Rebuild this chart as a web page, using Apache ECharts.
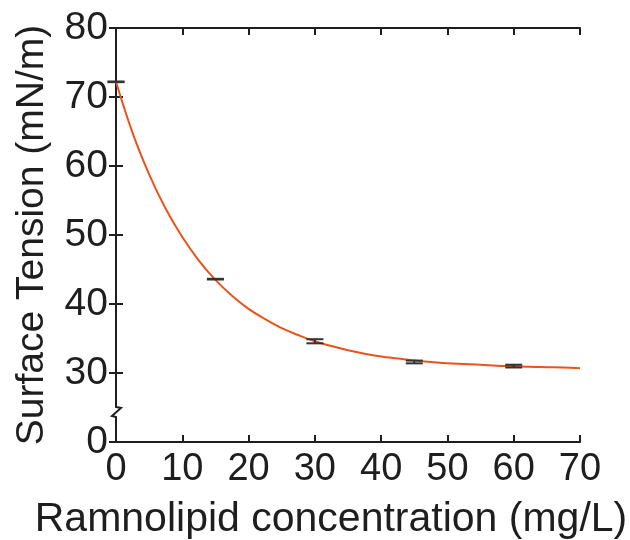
<!DOCTYPE html>
<html>
<head>
<meta charset="utf-8">
<script src="https://cdn.jsdelivr.net/npm/echarts@6/dist/echarts.min.js"></script>
<style>
  html, body { margin: 0; padding: 0; background: #fff; }
  #chart { width: 630px; height: 540px; }
</style>
</head>
<body>
<div id="chart"></div>
<script>
// measured points (mean +/- error)
var concX = [0, 15, 30, 45, 60]
var tensionMean = [72.2, 43.6, 34.6, 31.6, 31.0]
var tensionErr = [0.05, 0.05, 0.3, 0.2, 0.2]

// fitted curve
var fitX = [0, 2.5, 5, 7.5, 10, 12.5, 15, 17.5, 20, 22.5, 25, 27.5, 30, 32.5, 35, 37.5, 40, 42.5, 45, 47.5, 50, 52.5, 55, 57.5, 60, 62.5, 65, 67.5, 70]
var fitY = [72.2, 64.8, 58.8, 53.8, 49.7, 46.3, 43.5, 41.2, 39.3, 37.8, 36.5, 35.5, 34.6, 33.9, 33.3, 32.8, 32.4, 32.1, 31.8, 31.6, 31.4, 31.3, 31.2, 31.05, 31.0, 30.9, 30.85, 30.8, 30.7]

var xTicks = [0, 10, 20, 30, 40, 50, 60, 70]
var yTicks = [20, 30, 40, 50, 60, 70, 80] // 20 is shown as "0" (broken axis)

var font = 'Liberation Sans, Arial, Helvetica, sans-serif'
var ink = '#1e1e1e'

function pairs (xs, ys) {
    var out = []
    for (var i = 0; i < xs.length; i++) out.push([xs[i], ys[i]])
    return out
}

var errData = []
for (var i = 0; i < concX.length; i++) {
    errData.push([concX[i], tensionMean[i] - tensionErr[i], tensionMean[i] + tensionErr[i]])
}

var myChart = echarts.init(document.getElementById('chart'))

var frameAxis = {
    axisLine: { show: true, lineStyle: { color: ink, width: 2 } },
    axisTick: { show: true, inside: true, length: 7, lineStyle: { color: ink, width: 2 } },
    splitLine: { show: false }
}

myChart.setOption({
    animation: false,
    backgroundColor: '#fff',
    grid: { left: 116, right: 50, top: 28, bottom: 98, containLabel: false, outerBoundsMode: 'none' },
    xAxis: [
        Object.assign({
            type: 'value', min: xTicks[0], max: xTicks[xTicks.length - 1], interval: 10,
            name: 'Ramnolipid concentration (mg/L)',
            nameLocation: 'middle', nameGap: 57,
            nameTextStyle: { fontFamily: font, fontSize: 41, color: ink, padding: [0, 34, 0, 0] },
            axisLabel: { fontFamily: font, fontSize: 38, color: ink, margin: 9 }
        }, frameAxis),
        Object.assign({
            type: 'value', position: 'top', min: xTicks[0], max: xTicks[xTicks.length - 1], interval: 10,
            axisLabel: { show: false }
        }, frameAxis)
    ],
    yAxis: [
        Object.assign({
            type: 'value', min: yTicks[0], max: yTicks[yTicks.length - 1], interval: 10,
            name: 'Surface Tension (mN/m)',
            nameLocation: 'middle', nameGap: 64,
            nameTextStyle: { fontFamily: font, fontSize: 39, color: ink },
            axisLabel: {
                fontFamily: font, fontSize: 39, color: ink, margin: 8,
                formatter: function (v) { return v === yTicks[0] ? '0' : String(v) }
            }
        }, frameAxis),
        Object.assign({
            type: 'value', position: 'right', min: yTicks[0], max: yTicks[yTicks.length - 1], interval: 10,
            axisLabel: { show: false }
        }, frameAxis)
    ],
    series: [
        {
            type: 'line',
            data: pairs(fitX, fitY),
            smooth: 0.4,
            symbol: 'none',
            lineStyle: { color: '#e8541c', width: 2 },
            z: 3
        },
        {
            type: 'custom',
            data: errData,
            z: 4,
            renderItem: function (params, api) {
                var x = api.value(0)
                var lo = api.coord([x, api.value(1)])
                var hi = api.coord([x, api.value(2)])
                var w = 8.5
                var st = { stroke: '#333', lineWidth: 2 }
                return {
                    type: 'group',
                    children: [
                        { type: 'line', shape: { x1: lo[0], y1: lo[1], x2: hi[0], y2: hi[1] }, style: st },
                        { type: 'line', shape: { x1: lo[0] - w, y1: lo[1], x2: lo[0] + w, y2: lo[1] }, style: st },
                        { type: 'line', shape: { x1: hi[0] - w, y1: hi[1], x2: hi[0] + w, y2: hi[1] }, style: st }
                    ]
                }
            }
        }
    ]
})

// axis break glyph on the left axis, between "0" and 30
var bp = myChart.convertToPixel({ xAxisIndex: 0, yAxisIndex: 0 }, [0, 24.5])
var bx = bp[0], by = bp[1]
myChart.setOption({
    graphic: [
        { type: 'rect', shape: { x: bx - 4, y: by - 6, width: 8, height: 12 }, style: { fill: '#fff' }, z: 100 },
        {
            type: 'polyline',
            shape: { points: [[bx, by - 7], [bx, by - 4], [bx + 5, by - 3], [bx - 4, by + 5], [bx, by + 6], [bx, by + 9]] },
            style: { stroke: ink, lineWidth: 2, fill: null },
            z: 101
        }
    ]
})
</script>
</body>
</html>
